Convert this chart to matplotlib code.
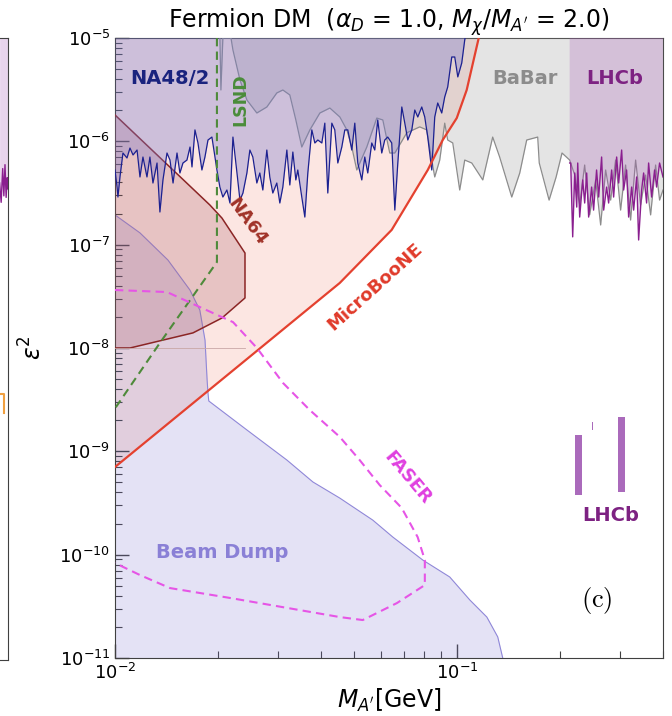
import matplotlib
matplotlib.use("Agg")
import matplotlib.pyplot as plt
from matplotlib.ticker import LogLocator, NullFormatter

# ---------------- limits on the dark photon: mass [GeV] vs epsilon^2 ----------------
microboone_mass = [0.0100, 0.0248, 0.0454, 0.0644, 0.0821, 0.0908, 0.0998, 0.1067, 0.1157, 0.1173]
microboone_eps2 = [7.05e-10, 8.26e-9, 4.26e-8, 1.39e-7, 5.28e-7, 1.03e-6, 1.68e-6, 3.14e-6, 1.0e-5, 1.25e-5]

beamdump_mass = [0.0100, 0.01183, 0.01428, 0.01656, 0.0177, 0.01833, 0.01859, 0.0187, 0.0188,
                 0.0243, 0.0318, 0.0379, 0.0454, 0.0567, 0.0649, 0.0794, 0.0952, 0.1090,
                 0.1222, 0.1315, 0.136]
beamdump_eps2 = [1.94e-7, 1.30e-7, 7.1e-8, 3.64e-8, 2.33e-8, 1.19e-8, 4.9e-9, 3.66e-9, 3.07e-9,
                 1.61e-9, 8.24e-10, 5.05e-10, 3.53e-10, 2.16e-10, 1.48e-10, 8.87e-11, 6.08e-11,
                 3.64e-11, 2.49e-11, 1.60e-11, 1.0e-11]

na64_mass = [0.0100, 0.01894, 0.02054, 0.02399, 0.02399, 0.02054, 0.01690, 0.01106, 0.0100]
na64_eps2 = [1.80e-6, 2.42e-7, 1.81e-7, 8.30e-8, 3.05e-8, 1.95e-8, 1.40e-8, 1.0e-8, 1.0e-8]

lsnd_mass = [0.01986, 0.01986, 0.01353, 0.0100]
lsnd_eps2 = [1.0e-5, 6.79e-8, 1.12e-8, 2.6e-9]

faser_mass = [0.0100, 0.01419, 0.0177, 0.02213, 0.0260, 0.0310, 0.0371, 0.0454, 0.0519, 0.0594,
              0.0689, 0.0767, 0.0805, 0.0805, 0.0667, 0.0530, 0.0454, 0.0217, 0.01448, 0.01183,
              0.0100]
faser_eps2 = [3.64e-8, 3.48e-8, 2.49e-8, 1.78e-8, 1.0e-8, 4.58e-9, 2.51e-9, 1.38e-9, 8.24e-10,
              4.72e-10, 2.83e-10, 1.48e-10, 8.87e-11, 5.08e-11, 3.40e-11, 2.33e-11, 2.49e-11,
              3.81e-11, 4.75e-11, 6.35e-11, 8.30e-11]

na48_mass = [0.01000, 0.01014, 0.01020, 0.01034, 0.01055, 0.01084, 0.01106, 0.01129, 0.01160,
             0.01183, 0.01207, 0.01240, 0.01265, 0.01291, 0.01327, 0.01353, 0.01381, 0.01419,
             0.01448, 0.01478, 0.01518, 0.01548, 0.01580, 0.01623, 0.01657, 0.01679, 0.01713,
             0.01748, 0.01795, 0.01832, 0.01870, 0.01920, 0.01960, 0.01986, 0.02026, 0.02067,
             0.02124, 0.02168, 0.02212, 0.02273, 0.02319, 0.02366, 0.02430, 0.02479, 0.02529,
             0.02598, 0.02651, 0.02705, 0.02779, 0.02835, 0.02893, 0.02972, 0.03033, 0.03095,
             0.03180, 0.03244, 0.03311, 0.03378, 0.03423, 0.03516, 0.03589, 0.03662, 0.03762,
             0.03839, 0.03917, 0.04024, 0.04106, 0.04189, 0.04304, 0.04391, 0.04481, 0.04603,
             0.04697, 0.04793, 0.04923, 0.05024, 0.05126, 0.05266, 0.05373, 0.05482, 0.05632,
             0.05746, 0.05863, 0.06023, 0.06146, 0.06271, 0.06442, 0.06577, 0.06711, 0.06894,
             0.07034, 0.07177, 0.07373, 0.07523, 0.07676, 0.07885, 0.08045, 0.08209, 0.08433,
             0.08605, 0.08780, 0.09019, 0.09203, 0.09390, 0.09650, 0.09846, 0.1005, 0.1032,
             0.1053, 0.1067]
na48_eps2 = [5.28e-7, 3.61e-7, 2.89e-7, 4.52e-7, 7.71e-7, 6.90e-7, 8.61e-7, 7.38e-7, 8.24e-7,
             4.52e-7, 7.05e-7, 4.52e-7, 7.05e-7, 3.95e-7, 6.17e-7, 2.07e-7, 4.23e-7, 7.71e-7,
             6.59e-7, 3.95e-7, 7.71e-7, 4.94e-7, 6.17e-7, 6.59e-7, 8.81e-7, 5.65e-7, 1.29e-6,
             9.64e-7, 5.28e-7, 7.05e-7, 1.03e-6, 1.10e-6, 7.05e-7, 5.28e-7, 3.61e-7, 2.89e-7,
             3.38e-7, 2.53e-7, 1.10e-6, 4.94e-7, 2.70e-7, 3.16e-7, 4.94e-7, 8.24e-7, 7.05e-7,
             3.95e-7, 4.94e-7, 3.38e-7, 8.24e-7, 4.52e-7, 3.16e-7, 3.95e-7, 2.53e-7, 3.61e-7,
             8.24e-7, 3.78e-7, 7.88e-7, 4.23e-7, 5.28e-7, 2.89e-7, 1.85e-7, 4.94e-7, 1.29e-6,
             9.64e-7, 1.03e-6, 9.64e-7, 1.50e-6, 3.16e-7, 1.50e-6, 1.29e-6, 6.17e-7, 8.81e-7,
             1.29e-6, 1.29e-6, 8.24e-7, 1.50e-6, 6.17e-7, 4.23e-7, 7.05e-7, 4.94e-7, 9.64e-7,
             8.24e-7, 1.61e-6, 7.71e-7, 1.03e-6, 1.10e-6, 9.64e-7, 2.16e-7, 6.17e-7, 2.15e-6,
             1.50e-6, 1.03e-6, 1.29e-6, 2.01e-6, 1.72e-6, 2.15e-6, 1.72e-6, 1.10e-6, 5.28e-7,
             1.72e-6, 2.35e-6, 1.88e-6, 2.69e-6, 3.36e-6, 6.55e-6, 6.55e-6, 4.20e-6, 5.73e-6,
             9.57e-6, 1.2e-5]

babar_mass = [0.02026, 0.02040, 0.02067, 0.02183, 0.02212, 0.02319, 0.02430, 0.02598, 0.02779,
              0.02972, 0.03095, 0.03244, 0.03378, 0.03516, 0.03713, 0.03971, 0.04247, 0.04543,
              0.04762, 0.04923, 0.05091, 0.05446, 0.05825, 0.06067, 0.06356, 0.06577, 0.07129,
              0.07779, 0.08154, 0.08433, 0.08605, 0.08899, 0.09203, 0.09390, 0.09715, 0.1018,
              0.1053, 0.1104, 0.1189, 0.1271, 0.1332, 0.1445, 0.1525, 0.1598, 0.1721, 0.1739,
              0.1858, 0.1948, 0.2027, 0.2134, 0.2208, 0.2283, 0.2361, 0.2441, 0.2542, 0.2629,
              0.2719, 0.2812, 0.2907, 0.3007, 0.3110, 0.3216, 0.3327, 0.3440, 0.3558, 0.3680,
              0.3806, 0.3909, 0.4000]
babar_eps2 = [1.0e-5, 3.14e-6, 1.0e-5, 1.0e-5, 7.65e-6, 3.93e-6, 2.51e-6, 1.88e-6, 2.15e-6,
              2.94e-6, 3.14e-6, 2.81e-6, 1.61e-6, 8.81e-7, 1.29e-6, 1.88e-6, 2.10e-6, 1.72e-6,
              1.29e-6, 8.81e-7, 5.28e-7, 8.81e-7, 1.68e-6, 1.61e-6, 7.71e-7, 7.71e-7, 1.21e-6,
              1.38e-6, 1.29e-6, 6.59e-7, 4.52e-7, 6.59e-7, 1.50e-6, 1.03e-6, 9.64e-7, 3.38e-7,
              6.59e-7, 6.17e-7, 4.23e-7, 1.10e-6, 7.05e-7, 2.89e-7, 4.94e-7, 1.03e-6, 1.10e-6,
              6.17e-7, 2.70e-7, 4.52e-7, 7.71e-7, 6.59e-7, 4.72e-7, 2.42e-7, 5.90e-7, 1.94e-7,
              4.23e-7, 1.55e-7, 5.28e-7, 2.70e-7, 6.59e-7, 2.16e-7, 5.90e-7, 1.73e-7, 6.59e-7,
              2.42e-7, 4.72e-7, 1.94e-7, 5.90e-7, 2.70e-7, 3.38e-7]

lhcb_mass = [0.2134, 0.2149, 0.2178, 0.2208, 0.2238, 0.2253, 0.2283, 0.2330, 0.2361, 0.2393,
             0.2425, 0.2474, 0.2507, 0.2558, 0.2594, 0.2646, 0.2683, 0.2737, 0.2774, 0.2831,
             0.2869, 0.2928, 0.2968, 0.3028, 0.3069, 0.3131, 0.3174, 0.3239, 0.3283, 0.3350,
             0.3395, 0.3464, 0.3511, 0.3582, 0.3631, 0.3705, 0.3780, 0.3831, 0.3909, 0.4000]
lhcb_eps2 = [6.17e-7, 6.17e-7, 1.19e-7, 4.94e-7, 2.31e-7, 6.17e-7, 1.85e-7, 4.23e-7, 2.53e-7,
             4.94e-7, 1.85e-7, 3.61e-7, 2.16e-7, 5.28e-7, 2.89e-7, 7.05e-7, 2.16e-7, 3.61e-7,
             2.53e-7, 5.28e-7, 2.89e-7, 7.05e-7, 3.95e-7, 8.24e-7, 3.38e-7, 5.28e-7, 1.85e-7,
             3.61e-7, 2.16e-7, 4.52e-7, 1.11e-7, 3.38e-7, 4.94e-7, 2.53e-7, 6.17e-7, 2.89e-7,
             5.28e-7, 3.61e-7, 6.17e-7, 4.52e-7]

# displaced-vertex islands from LHCb (mass range, eps^2 range)
lhcb_island_mass = [(0.2208, 0.2314), (0.2478, 0.2502), (0.2947, 0.3090)]
lhcb_island_eps2 = [(3.78e-10, 1.44e-9), (1.61e-9, 1.92e-9), (4.04e-10, 2.15e-9)]

# neighbouring panel edge (only its right end is in view)
side_mass = [0.3780, 0.3820, 0.3860, 0.3890, 0.3920, 0.3950, 0.3980, 0.4000]
side_eps2 = [4.0e-7, 2.6e-7, 5.5e-7, 3.0e-7, 6.0e-7, 2.9e-7, 4.5e-7, 3.5e-7]
side_orange_mass = [0.3780, 0.3890, 0.3890]
side_orange_eps2 = [3.67e-9, 3.67e-9, 2.40e-9]

XLIM = (0.01, 0.4)
YLIM = (1e-11, 1e-5)
TOP = 1.0

fig = plt.figure(figsize=(6.72, 7.16), dpi=100)

# ---- sliver of the neighbouring panel on the left ----
side = fig.add_axes([-0.8036, 1 - 660 / 716, 0.8155, 622 / 716])
side.set_xscale("log")
side.set_yscale("log")
side.set_xlim(*XLIM)
side.set_ylim(*YLIM)
side.fill_between(side_mass, side_eps2, TOP, color="#a555b5", alpha=0.25, lw=0)
side.plot(side_mass, side_eps2, color="#8a1f8f", lw=1.0)
side.plot(side_orange_mass, side_orange_eps2, color="#f0a040", lw=1.5)
side.xaxis.set_visible(False)
side.yaxis.set_visible(False)
for s in side.spines.values():
    s.set_color("#404040")

# ---- main panel ----
ax = fig.add_axes([115 / 672, 1 - 658 / 716, 548 / 672, 620 / 716])
ax.set_xscale("log")
ax.set_yscale("log")
ax.set_xlim(*XLIM)
ax.set_ylim(*YLIM)

# MicroBooNE (opaque pale pink, lowest layer)
ax.fill_between(microboone_mass, microboone_eps2, TOP, color="#fce6e2", lw=0, zorder=1)
# Beam dump
ax.fill_between(beamdump_mass, 1e-13, beamdump_eps2, color="#786ecd", alpha=0.2, lw=0, zorder=2)
ax.plot(beamdump_mass, beamdump_eps2, color="#8f87d8", lw=0.8, zorder=2.1)
# BaBar
ax.fill_between(babar_mass, babar_eps2, TOP, color="#979797", alpha=0.25, lw=0, zorder=3)
ax.plot(babar_mass, babar_eps2, color="#8c8c8c", lw=0.9, zorder=3.1)
# NA64
ax.fill(na64_mass, na64_eps2, facecolor="#ac5b67", alpha=0.25, lw=0, zorder=4)
ax.plot(na64_mass, na64_eps2, color="#8b2525", lw=1.1, zorder=4.1)
ax.plot([na64_mass[-1], na64_mass[3]], [na64_eps2[-1], na64_eps2[-1]], color="#c9a7a7", lw=0.6, zorder=4.1)
# NA48/2
ax.fill_between(na48_mass, na48_eps2, TOP, color="#7878cd", alpha=0.35, lw=0, zorder=5)
ax.plot(na48_mass, na48_eps2, color="#1c2190", lw=0.9, zorder=5.1)
# LHCb prompt
ax.fill_between(lhcb_mass, lhcb_eps2, TOP, color="#a555b5", alpha=0.25, lw=0, zorder=5)
ax.plot(lhcb_mass, lhcb_eps2, color="#8a1f8f", lw=1.0, zorder=5.2)
# LHCb displaced islands
for (m0, m1), (e0, e1) in zip(lhcb_island_mass, lhcb_island_eps2):
    ax.fill([m0, m1, m1, m0], [e1, e1, e0, e0],
            color="#9b50b0", alpha=0.85, lw=0, zorder=5)
# MicroBooNE edge
ax.plot(microboone_mass, microboone_eps2, color="#e4412f", lw=1.6, zorder=6)
# LSND and FASER dashed curves
ax.plot(lsnd_mass, lsnd_eps2, color="#4e8a3a", lw=1.5, ls=(0, (4, 2.5)), zorder=6)
ax.plot(faser_mass, faser_eps2, color="#e655e6", lw=1.5, ls=(0, (4, 2.5)), zorder=6)

# labels of the regions
lab = dict(fontweight="bold", ha="center", va="center", zorder=10)
ax.text(0.01448, 4.10e-6, "NA48/2", color="#1a237e", fontsize=14, **lab)
ax.text(0.02319, 2.51e-6, "LSND", color="#4a8c3a", fontsize=12.5, rotation=90, **lab)
ax.text(0.02430, 1.66e-7, "NA64", color="#a03228", fontsize=13, rotation=-54, **lab)
ax.text(0.05748, 3.89e-8, "MicroBooNE", color="#e03a2a", fontsize=13, rotation=42, **lab)
ax.text(0.0718, 5.52e-10, "FASER", color="#e040e0", fontsize=13, rotation=-50, **lab)
ax.text(0.1577, 4.10e-6, "BaBar", color="#8c8c8c", fontsize=14, **lab)
ax.text(0.2888, 4.10e-6, "LHCb", color="#7d2282", fontsize=14, **lab)
ax.text(0.2812, 2.37e-10, "LHCb", color="#7d2282", fontsize=14, **lab)
ax.text(0.0206, 1.04e-10, "Beam Dump", color="#8a80d6", fontsize=14, **lab)
ax.text(0.8796, 0.0935, r"$\mathrm{(c)}$", transform=ax.transAxes, fontsize=19,
        math_fontfamily="cm", ha="center", va="center", zorder=10)

ax.set_title(r"Fermion DM  ($\alpha_D$ = 1.0, $M_\chi/M_{A'}$ = 2.0)", fontsize=17, pad=6)
ax.set_xlabel(r"$M_{A'}$[GeV]", fontsize=17, labelpad=3)
ax.set_ylabel(r"$\varepsilon^2$", fontsize=17, labelpad=9)

ax.xaxis.set_major_locator(LogLocator(base=10, numticks=10))
ax.xaxis.set_minor_locator(LogLocator(base=10, subs=range(2, 10), numticks=20))
ax.xaxis.set_minor_formatter(NullFormatter())
ax.yaxis.set_major_locator(LogLocator(base=10, numticks=10))
ax.yaxis.set_minor_locator(LogLocator(base=10, subs=range(2, 10), numticks=20))
ax.yaxis.set_minor_formatter(NullFormatter())
ax.tick_params(which="major", direction="in", length=10, width=1.0, labelsize=13, color="#404040")
ax.tick_params(which="minor", direction="in", length=5, width=0.8, color="#404040")
for s in ax.spines.values():
    s.set_color("#404040")

fig.savefig("out.png", dpi=100)
